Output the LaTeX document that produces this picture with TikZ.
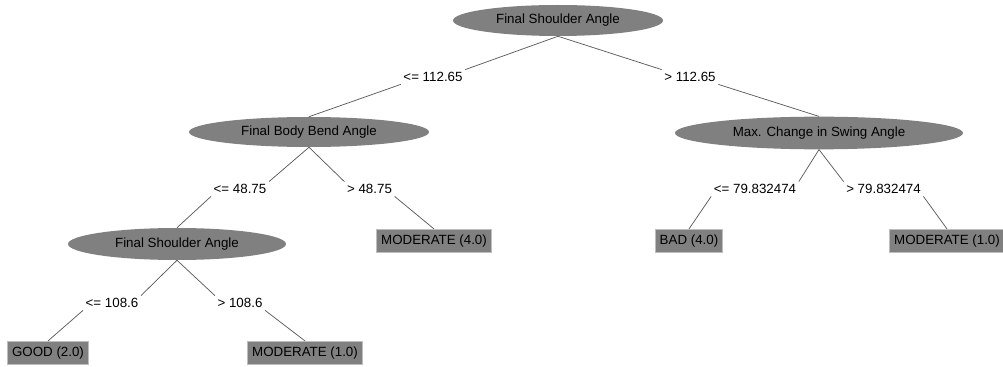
\documentclass[tikz,border=0pt]{standalone}
\usepackage{fontspec}
\setmainfont{Liberation Sans}
\usetikzlibrary{shapes.geometric}

\definecolor{nodegray}{RGB}{128,128,128}
\definecolor{framegray}{RGB}{190,190,190}
\definecolor{edgegray}{RGB}{90,90,90}

\tikzset{
  test/.style={ellipse,fill=nodegray,inner sep=0pt,font=\treefont},
  leaf/.style={rectangle,fill=nodegray,draw=framegray,line width=0.6pt,
    inner xsep=3.2pt,inner ysep=0pt,minimum height=17.5pt,font=\treefont},
  cond/.style={inner sep=2pt,outer sep=0pt,font=\treefont},
  branch/.style={draw=edgegray,line width=0.55pt}
}
\newcommand{\treefont}{\fontsize{10pt}{12pt}\selectfont}

\begin{document}
\begin{tikzpicture}[x=0.75pt,y=-0.75pt]
\useasboundingbox (0,0) rectangle (1003,367);
% decision nodes
\node[test,minimum width=157.5pt,minimum height=23.25pt] (root) at (558,20.5) {Final Shoulder Angle};
\node[test,minimum width=180pt,minimum height=22.5pt] (bend) at (309,132) {Final Body Bend Angle};
\node[test,minimum width=216pt,minimum height=24.5pt] (swing) at (819,133) {Max. Change in Swing Angle};
\node[test,minimum width=163.5pt,minimum height=24pt] (shoulder) at (177,244) {Final Shoulder Angle};
% branch conditions
\node[cond] (le1) at (433,77) {<= 112.65};
\node[cond] (gt1) at (690,77) {> 112.65};
\node[cond] (le2) at (240,189) {<= 48.75};
\node[cond] (gt2) at (369.5,189) {> 48.75};
\node[cond] (le3) at (755,189) {<= 79.832474};
\node[cond] (gt3) at (883.5,189) {> 79.832474};
\node[cond] (le4) at (112,303) {<= 108.6};
\node[cond] (gt4) at (240,303) {> 108.6};
% leaves
\node[leaf] (good) at (48,353) {GOOD (2.0)};
\node[leaf] (mod1) at (305,353) {MODERATE (1.0)};
\node[leaf] (mod4) at (434,241) {MODERATE (4.0)};
\node[leaf] (bad) at (689,241) {BAD (4.0)};
\node[leaf] (mod1b) at (947,241) {MODERATE (1.0)};
% edges
\draw[branch] (root.south) -- (le1.north east);
\draw[branch] (le1.south west) -- (bend.north);
\draw[branch] (root.south) -- (gt1.north west);
\draw[branch] (gt1.south east) -- (swing.north);
\draw[branch] (bend.south) -- (le2.north east);
\draw[branch] (le2.south west) -- (shoulder.north);
\draw[branch] (bend.south) -- (gt2.north west);
\draw[branch] (gt2.south east) -- (mod4.north);
\draw[branch] (swing.south) -- (le3.north east);
\draw[branch] (le3.south west) -- (bad.north);
\draw[branch] (swing.south) -- (gt3.north west);
\draw[branch] (gt3.south east) -- (mod1b.north);
\draw[branch] (shoulder.south) -- (le4.north east);
\draw[branch] (le4.south west) -- (good.north);
\draw[branch] (shoulder.south) -- (gt4.north west);
\draw[branch] (gt4.south east) -- (mod1.north);
\end{tikzpicture}
\end{document}
